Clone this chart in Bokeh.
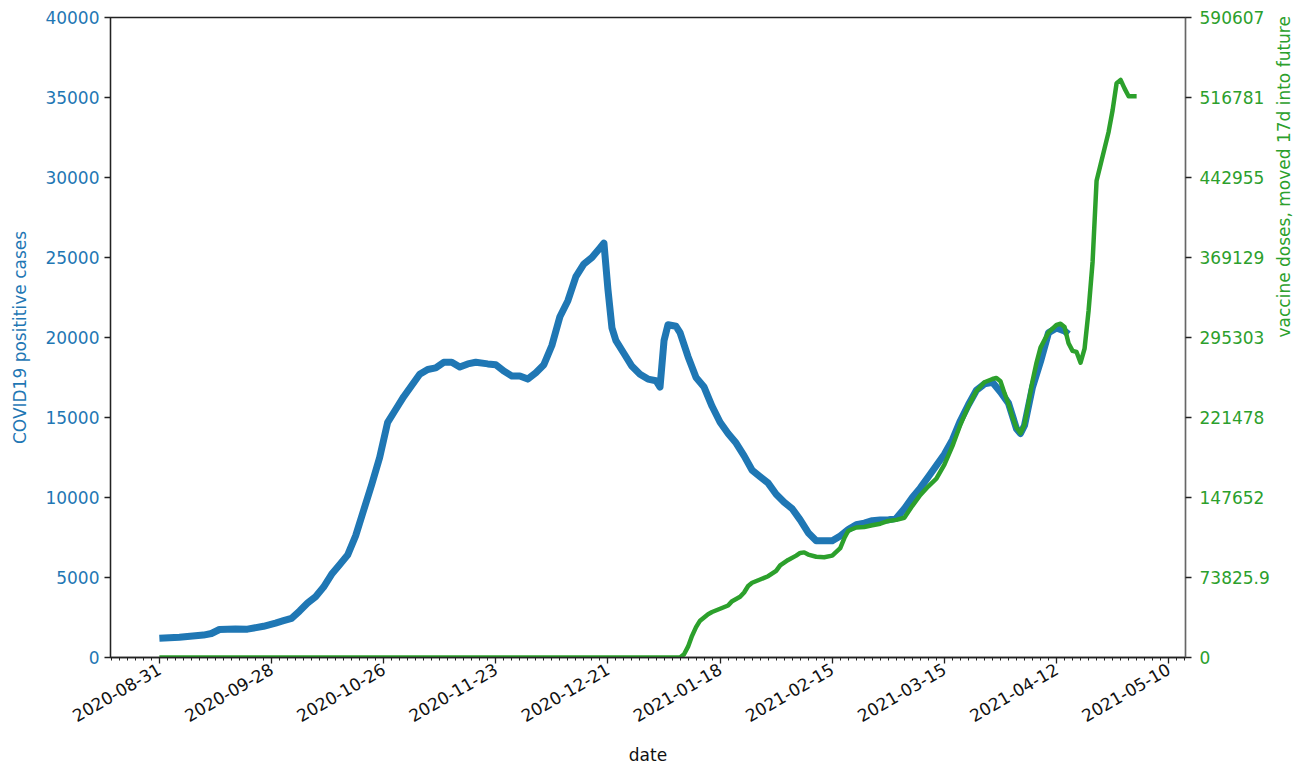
import math
from datetime import datetime, timedelta
from bokeh.plotting import figure
from bokeh.models import Range1d, LinearAxis, FixedTicker, DatetimeTickFormatter
from bokeh.embed import file_html
from bokeh.resources import INLINE

# ---- data ----
start_date = "2020-08-31"

cases_day = [0, 5, 11, 13, 15, 19, 22, 26, 29, 31, 33, 35, 37, 39, 41, 43, 45, 47, 49, 51,
             53, 55, 57, 59, 61, 63, 65, 67, 69, 71, 73, 75, 77, 79, 82, 84, 86, 88, 90, 92,
             94, 96, 98, 100, 102, 104, 106, 108, 110, 111, 112, 113, 114, 116, 118, 120, 122,
             124, 125, 126, 127, 129, 130, 132, 134, 136, 138, 140, 142, 144, 146, 148, 150,
             152, 154, 156, 158, 160, 162, 164, 166, 168, 170, 172, 174, 176, 178, 180, 182,
             184, 186, 188, 190, 192, 194, 196, 198, 200, 202, 204, 206, 208, 210, 212, 214,
             215, 216, 218, 220, 222, 224, 226, 227]
cases_val = [1200, 1270, 1400, 1500, 1750, 1780, 1770, 1950, 2150, 2300, 2450, 2900, 3400,
             3800, 4400, 5200, 5800, 6400, 7600, 9200, 10800, 12500, 14700, 15500, 16300,
             17000, 17700, 18000, 18100, 18450, 18450, 18150, 18350, 18450, 18350, 18300,
             17900, 17600, 17600, 17400, 17800, 18300, 19500, 21300, 22300, 23800, 24600,
             25000, 25600, 25900, 23000, 20600, 19800, 19000, 18200, 17700, 17400, 17300,
             16900, 19800, 20800, 20700, 20300, 18800, 17500, 16900, 15700, 14700, 14000,
             13400, 12600, 11700, 11300, 10900, 10200, 9700, 9300, 8600, 7800, 7300, 7300,
             7300, 7600, 8000, 8300, 8400, 8550, 8600, 8600, 8700, 9300, 10000, 10600, 11300,
             12000, 12700, 13600, 14800, 15800, 16700, 17100, 17200, 16600, 15900, 14300,
             14000, 14500, 16900, 18500, 20300, 20600, 20400, 20200]

vacc_day = [0, 130, 131, 132, 133, 134, 135, 136, 137, 138, 140, 142, 143, 145, 146, 147, 148,
            150, 152, 154, 155, 157, 159, 160, 161, 162, 164, 166, 168, 170, 171, 172, 174,
            176, 178, 180, 182, 184, 186, 188, 190, 192, 194, 196, 198, 200, 202, 204, 206,
            208, 209, 210, 211, 212, 213, 214, 215, 216, 217, 218, 219, 220, 222, 224, 225,
            226, 227, 228, 229, 230, 231, 232, 233, 234, 235, 236, 237, 238, 239, 240, 241,
            242, 244]
vacc_val = [0, 0, 3000, 10000, 20000, 28000, 34000, 37000, 40000, 42000, 45000, 48000, 52000,
            56000, 60000, 66000, 69000, 72000, 75000, 80000, 85000, 90000, 94000, 96500,
            97000, 95000, 93000, 92500, 94000, 101000, 110000, 117000, 120000, 120500,
            122000, 123500, 126000, 127000, 129000, 140000, 150000, 158000, 165000, 178000,
            195000, 215000, 232000, 246000, 254000, 257000, 258000, 255000, 244000, 234000,
            222000, 212000, 207000, 215000, 235000, 255000, 272000, 286000, 300000, 307000,
            308000, 305000, 290000, 283000, 282000, 272000, 285000, 320000, 365000, 440000,
            455000, 470000, 485000, 505000, 530000, 533000, 525000, 518000, 518000]

left_ticks = [0, 5000, 10000, 15000, 20000, 25000, 30000, 35000, 40000]
right_tick_labels = ["0", "73825.9", "147652", "221478", "295303", "369129",
                     "442955", "516781", "590607"]
x_tick_dates = ["2020-08-31", "2020-09-28", "2020-10-26", "2020-11-23", "2020-12-21",
                "2021-01-18", "2021-02-15", "2021-03-15", "2021-04-12", "2021-05-10"]

BLUE = "#1f77b4"
GREEN = "#2ca02c"
FONT = "DejaVu Sans"

d0 = datetime.strptime(start_date, "%Y-%m-%d")


def to_ms(dt):
    return (dt - datetime(1970, 1, 1)).total_seconds() * 1000.0


cases_x = [d0 + timedelta(days=d) for d in cases_day]
vacc_x = [d0 + timedelta(days=d) for d in vacc_day]

span = max(vacc_day) - min(vacc_day)
x_start = d0 + timedelta(days=min(vacc_day) - 0.05 * span)
x_end = d0 + timedelta(days=max(vacc_day) + 0.05 * span)

p = figure(width=1306, height=768, x_axis_type="datetime",
           x_range=Range1d(x_start, x_end), y_range=Range1d(0, 40000),
           output_backend="svg", toolbar_location=None,
           min_border_left=110, min_border_right=120, min_border_top=17, min_border_bottom=110)
p.extra_y_ranges = {"vac": Range1d(0, float(right_tick_labels[-1]))}

p.grid.visible = False
p.outline_line_color = "#222222"
p.outline_line_width = 1.3
p.background_fill_color = "white"
p.border_fill_color = "white"

p.line(cases_x, cases_val, line_color=BLUE, line_width=7, line_join="round")
p.line(vacc_x, vacc_val, line_color=GREEN, line_width=4.5, line_join="round",
       y_range_name="vac")

# x axis
major_ms = [to_ms(datetime.strptime(s, "%Y-%m-%d")) for s in x_tick_dates]
minor_ms = []
step = 2 * 86400000.0
base = major_ms[0]
k = math.ceil((to_ms(x_start) - base) / step)
while base + k * step <= to_ms(x_end):
    minor_ms.append(base + k * step)
    k += 1
xa = p.xaxis[0]
xa.ticker = FixedTicker(ticks=major_ms, minor_ticks=minor_ms)
fmt = "%Y-%m-%d"
xa.formatter = DatetimeTickFormatter(milliseconds=fmt, seconds=fmt, minsec=fmt, minutes=fmt,
                                     hourmin=fmt, hours=fmt, days=fmt, months=fmt, years=fmt)
xa.major_label_orientation = math.pi / 6
xa.axis_label = "date"

# left axis
ya = p.yaxis[0]
ya.ticker = FixedTicker(ticks=left_ticks)
ya.axis_label = "COVID19 posititive cases"
ya.major_label_text_color = BLUE
ya.axis_label_text_color = BLUE
ya.minor_tick_line_color = None

# right axis
right_ticks = [float(s) for s in right_tick_labels]
ra = LinearAxis(y_range_name="vac", ticker=FixedTicker(ticks=right_ticks),
                axis_label="vaccine doses, moved 17d into future")
ra.major_label_overrides = {v: s for v, s in zip(right_ticks, right_tick_labels)}
ra.major_label_text_color = GREEN
ra.axis_label_text_color = GREEN
ra.minor_tick_line_color = None
try:
    ra.axis_label_orientation = math.pi / 2
except Exception:
    pass
p.add_layout(ra, "right")

for ax in [xa, ya, ra]:
    ax.axis_line_color = "#222222"
    ax.axis_line_width = 1.3
    ax.major_tick_line_color = "#222222"
    ax.major_tick_line_width = 1.3
    ax.major_tick_out = 6
    ax.major_tick_in = 0
    ax.minor_tick_out = 3
    ax.minor_tick_in = 0
    ax.minor_tick_line_width = 1.0
    ax.major_label_text_font = FONT
    ax.major_label_text_font_size = "17px"
    ax.axis_label_text_font = FONT
    ax.axis_label_text_font_size = "17px"
    ax.axis_label_text_font_style = "normal"
    ax.major_label_standoff = 5
    ax.axis_label_standoff = 12

xa.major_label_standoff = 4
xa.axis_label_standoff = 14
ra.major_label_standoff = 8
ra.axis_label_standoff = 11

xa.minor_tick_line_color = "#222222"
xa.major_label_text_color = "#111111"
xa.axis_label_text_color = "#111111"
ra.axis_line_color = "#666666"

open("out.html", "w").write(file_html(p, INLINE))
